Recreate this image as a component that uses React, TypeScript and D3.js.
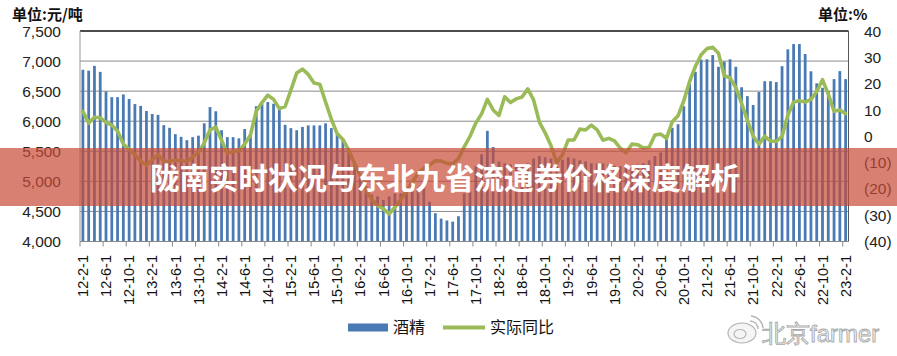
import React from "react";
import * as d3 from "d3";

// ---- data ----
const tickLabels: string[] = [
  "12-2-1", "12-6-1", "12-10-1", "13-2-1", "13-6-1", "13-10-1", "14-2-1", "14-6-1", "14-10-1",
  "15-2-1", "15-6-1", "15-10-1", "16-2-1", "16-6-1", "16-10-1", "17-2-1", "17-6-1", "17-10-1",
  "18-2-1", "18-6-1", "18-10-1", "19-2-1", "19-6-1", "19-10-1", "20-2-1", "20-6-1", "20-10-1",
  "21-2-1", "21-6-1", "21-10-1", "22-2-1", "22-6-1", "22-10-1", "23-2-1",
];

// monthly categories 12-2-1 .. 23-2-1
const categories: string[] = [];
for (let y = 12; y <= 23; y++) {
  for (let m = 1; m <= 12; m++) {
    if ((y === 12 && m < 2) || (y === 23 && m > 2)) continue;
    categories.push(`${y}-${m}-1`);
  }
}

const alcohol: number[] = [
  6855, 6840, 6920, 6820, 6495, 6400, 6400, 6445, 6370, 6285, 6255, 6170,
  6120, 6105, 5935, 5890, 5785, 5740, 5685, 5735, 5760, 5965, 6235, 6165,
  5850, 5735, 5735, 5715, 5870, 5760, 6250, 6285, 6320, 6290, 6200, 5940,
  5885, 5850, 5905, 5930, 5930, 5930, 5965, 5885, 5770, 5690, 5500, 5330,
  5050, 4920, 4780, 4750, 4690, 4750, 4800, 4800, 4880, 4880, 4860, 4900,
  4660, 4470, 4380, 4350, 4330, 4420, 4800, 4830, 5250, 5450, 5840, 5570,
  5330, 5300, 5280, 5250, 5270, 5300, 5380, 5420, 5400, 5380, 5350, 5360,
  5400, 5380, 5350, 5330, 5300, 5300, 5300, 5280, 5260, 5250, 5240, 5250,
  5280, 5300, 5350, 5420, 5480, 5772, 5890, 5950, 6250, 6620, 6820, 7025,
  7030, 7100, 6905, 6990, 7030, 6905, 6565, 6417, 6270, 6485, 6665, 6665,
  6650, 6915, 7195, 7283, 7283, 7117, 6830, 6630, 6556, 6506, 6700, 6833,
  6700,
];

const yoy: number[] = [
  9.5, 5.0, 7.2, 7.0, 5.3, 4.2, 2.0, -3.0, -5.0, -7.0, -9.5, -11.0,
  -9.0, -7.0, -9.5, -9.4, -9.1, -9.2, -9.6, -7.8, -6.2, -2.5, 2.4, 3.5,
  -1.5, -6.5, -5.8, -5.6, -3.0, 0.5, 9.5, 12.8, 15.6, 14.0, 10.5, 11.3,
  17.5, 24.0, 25.5, 23.5, 20.2, 19.8, 13.0, 6.5, 1.0, -1.2, -5.3, -10.3,
  -14.8, -20.5, -24.0, -26.3, -27.6, -29.5, -27.0, -24.2, -20.8, -17.5, -14.0, -12.1,
  -11.0, -9.3, -9.4, -10.3, -10.5, -8.5, -4.0, 0.0, 5.0, 8.5, 14.0, 10.0,
  7.9, 15.0, 12.8, 14.2, 14.9, 18.0, 13.8, 5.4, 1.3, -3.5, -10.0, -7.0,
  -1.4, -1.4, 2.7, 2.4, 4.2, 2.4, -1.5, -0.8, -1.8, -4.5, -6.3, -3.0,
  -3.2, -4.5, -4.2, 0.5, 0.8, -0.8, 5.5, 7.8, 13.5, 20.8, 26.5, 31.0,
  33.3, 33.8, 31.5, 23.0, 22.2, 18.5, 12.5, 6.0, 0.0, -3.0, 0.0, -1.8,
  -2.0, 0.0, 8.0, 13.0, 13.5, 13.0, 14.0, 17.0, 21.5, 16.0, 9.5, 10.0,
  8.6,
];

const leftTicks: number[] = [4000, 4500, 5000, 5500, 6000, 6500, 7000, 7500];
const rightTicks: number[] = [40, 30, 20, 10, 0, -10, -20, -30, -40];

const title = "陇南实时状况与东北九省流通券价格深度解析";

// ---- layout ----
const W = 897;
const H = 356;
const L = 80;
const R = 848.5;
const T = 31;
const B = 241.5;
const FONT = "'Liberation Sans', Arial, sans-serif";
const CJK = "'Noto Sans CJK SC', sans-serif";

export default function App() {
  const x = d3.scaleBand<string>().domain(categories).range([L, R]).paddingInner(0.52).paddingOuter(0.26);
  const step = x.step();
  const yL = d3.scaleLinear().domain([4000, 7500]).range([B, T]);
  const yR = d3.scaleLinear().domain([-40, 40]).range([B, T]);

  const line = d3
    .line<number>()
    .x((_, i) => (x(categories[i]) as number) + x.bandwidth() / 2)
    .y((d) => yR(d));

  const fmt = d3.format(",");
  const fmtR = (v: number) => (v < 0 ? `(${Math.abs(v)})` : `${v}`);

  const tickIdx = tickLabels.map((t) => categories.indexOf(t));
  const band0 = (x(categories[0]) as number) - step * x.paddingOuter();

  return (
    <svg width={W} height={H} style={{ position: "absolute", left: 0, top: 0, background: "#fff" }}>
      <rect x={0} y={0} width={W} height={H} fill="#fff" />
      {/* gridlines */}
      {leftTicks.map((t) => (
        <line key={t} x1={L} x2={R} y1={yL(t)} y2={yL(t)} stroke={t === 7500 ? "#111" : "#8a8a8a"} strokeWidth={t === 7500 ? 1.4 : 1} />
      ))}
      <line x1={L} x2={L} y1={T} y2={B} stroke="#999" />
      <line x1={R} x2={R} y1={T} y2={B} stroke="#555" />
      {/* bars */}
      {alcohol.map((v, i) => (
        <rect key={i} x={x(categories[i])} y={yL(v)} width={x.bandwidth()} height={B - yL(v)} fill="#4a7ab4" />
      ))}
      {/* x axis */}
      <line x1={L} x2={R} y1={B} y2={B} stroke="#888" />
      {d3.range(0, categories.length + 1, 4).map((k) => (
        <line key={k} x1={band0 + k * step} x2={band0 + k * step} y1={B} y2={B + 5} stroke="#888" />
      ))}
      {/* line */}
      <path d={line(yoy) || ""} fill="none" stroke="#9bbb59" strokeWidth={3.6} strokeLinejoin="round" strokeLinecap="round" />
      {/* left axis labels */}
      {leftTicks.map((t) => (
        <text key={t} x={61} y={yL(t)} dy="0.36em" textAnchor="end" fontFamily={FONT} fontSize={15.5} fill="#222">
          {fmt(t)}
        </text>
      ))}
      {/* right axis labels */}
      {rightTicks.map((t) => (
        <text key={t} x={864} y={yR(t)} dy="0.36em" textAnchor="start" fontFamily={FONT} fontSize={15.5} fill="#222">
          {fmtR(t)}
        </text>
      ))}
      <text x={12} y={19.5} fontFamily={CJK} fontWeight="bold" fontSize={15} fill="#111">单位:元/吨</text>
      <text x={818} y={19.5} fontFamily={CJK} fontWeight="bold" fontSize={15} fill="#111">单位:%</text>
      {/* x labels */}
      {tickLabels.map((t, j) => {
        const cx = (x(categories[tickIdx[j]]) as number) + x.bandwidth() / 2;
        return (
          <text key={t} transform={`translate(${cx},255) rotate(-90)`} textAnchor="end" dy="0.36em" fontFamily={FONT} fontSize={14.5} fill="#111">
            {t}
          </text>
        );
      })}
      {/* legend */}
      <rect x={348} y={323.5} width={40} height={8} fill="#4a7ab4" />
      <text x={393} y={327.5} dy="0.36em" fontFamily={CJK} fontSize={16} fill="#111">酒精</text>
      <line x1={443} x2={485} y1={327.5} y2={327.5} stroke="#9bbb59" strokeWidth={4} />
      <text x={490} y={327.5} dy="0.36em" fontFamily={CJK} fontSize={16} fill="#111">实际同比</text>
      {/* watermark */}
      <g opacity={0.85}>
        <ellipse cx={742} cy={333} rx={14} ry={10} fill="#f4f4f4" stroke="#aaa" strokeWidth={1.2} />
        <ellipse cx={740} cy={334} rx={6} ry={4.5} fill="none" stroke="#aaa" strokeWidth={1.2} />
        <path d="M750,321 a8,8 0 0 1 8,8" fill="none" stroke="#aaa" strokeWidth={1.5} />
        <path d="M751,316 a13,13 0 0 1 12,12" fill="none" stroke="#aaa" strokeWidth={1.5} />
        <text x={762} y={342} fontFamily={FONT} fontSize={24} fill="#f4f4f4" stroke="#9a9a9a" strokeWidth={0.9}>北京farmer</text>
      </g>
      {/* banner */}
      <rect x={0} y={148} width={W} height={58} fill="rgb(200,75,55)" opacity={0.7} />
      <text x={150} y={178} dy="0.36em" fontFamily={CJK} fontWeight="bold" fontSize={29.5} fill="#fff">{title}</text>
    </svg>
  );
}
